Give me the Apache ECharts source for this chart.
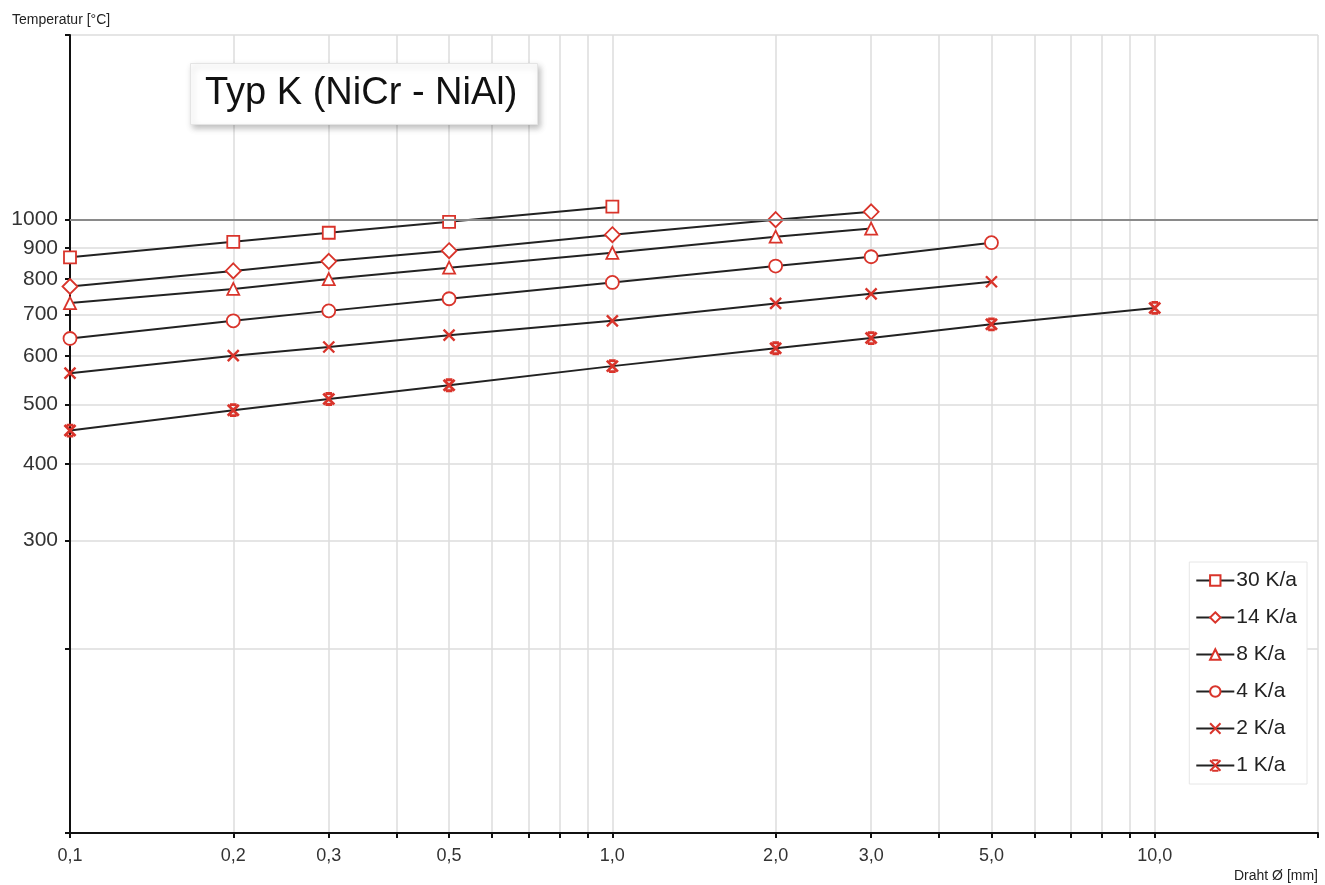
<!DOCTYPE html>
<html>
<head>
<meta charset="utf-8">
<script src="https://cdn.jsdelivr.net/npm/echarts@6/dist/echarts.min.js"></script>
<style>
  html, body { margin: 0; padding: 0; background: #fff; }
  #chart { width: 1325px; height: 885px; }
</style>
</head>
<body>
<div id="chart"></div>
<script>
// Drahtdurchmesser [mm]
const diameters = [0.1, 0.2, 0.3, 0.5, 1.0, 2.0, 3.0, 5.0, 10.0]
// Temperatur [°C] je Drift
const k30 = [868, 920, 952, 992, 1050]
const k14 = [778, 825, 855, 890, 945, 1000, 1030]
const k8 = [731, 771, 800, 835, 883, 938, 967]
const k4 = [640, 684, 710, 743, 790, 840, 870, 917]
const k2 = [562, 600, 620, 648, 684, 730, 757, 792]
const k1 = [453, 489, 510, 537, 577, 617, 641, 675, 718]

const xTickValues = [0.1, 0.2, 0.3, 0.4, 0.5, 0.6, 0.7, 0.8, 0.9, 1, 2, 3, 4, 5, 6, 7, 8, 9, 10, 20]
const xLabelValues = [0.1, 0.2, 0.3, 0.5, 1, 2, 3, 5, 10]
const yTickValues = [100, 200, 300, 400, 500, 600, 700, 800, 900, 1000, 2000]
const yLabelValues = [300, 400, 500, 600, 700, 800, 900, 1000]

const pairs = (vals) => vals.map((v, i) => [diameters[i], v])

const crossPath = 'path://M0,0L10,10M10,0L0,10'
const starPath = 'path://M0,0L10,10M10,0L0,10M2,0L8,0M2,10L8,10'

const makeSeries = (name, vals, symbol, size, bw) => ({
  name: name,
  type: 'line',
  data: pairs(vals),
  symbol: symbol,
  symbolSize: size,
  showAllSymbol: true,
  lineStyle: { color: '#222', width: 2 },
  itemStyle: { color: '#fff', borderColor: '#d9342b', borderWidth: bw },
  emphasis: { disabled: true },
  z: 3
})

const series = [
  makeSeries('30 K/a', k30, 'rect', 12, 1.8),
  makeSeries('14 K/a', k14, 'diamond', 15, 1.8),
  makeSeries('8 K/a', k8, 'triangle', 12, 1.8),
  makeSeries('4 K/a', k4, 'circle', 13, 1.8),
  makeSeries('2 K/a', k2, crossPath, 11, 2.4),
  makeSeries('1 K/a', k1, starPath, 11, 2.8)
]
// 1000 °C Linie
series[0].markLine = {
  silent: true,
  symbol: 'none',
  label: { show: false },
  lineStyle: { color: '#8a8a8a', width: 2, type: 'solid' },
  data: [{ yAxis: 1000 }]
}

var chartDom = document.getElementById('chart')
var myChart = echarts.init(chartDom)
var option

option = {
  animation: false,
  backgroundColor: '#fff',
  textStyle: { fontFamily: 'Liberation Sans, Arial, sans-serif' },
  title: {
    text: 'Typ K (NiCr - NiAl)',
    left: 190,
    top: 63,
    padding: [12, 20, 12, 15],
    backgroundColor: '#fff',
    borderColor: '#e4e4e4',
    borderWidth: 1,
    shadowBlur: 6,
    shadowOffsetX: 2,
    shadowOffsetY: 3,
    shadowColor: 'rgba(0,0,0,0.25)',
    textStyle: { fontSize: 38, fontWeight: 'normal', color: '#111', fontFamily: 'Liberation Sans, Arial' }
  },
  legend: {
    orient: 'vertical',
    right: 18,
    top: 562,
    padding: [8, 10, 8, 6],
    itemWidth: 38,
    itemHeight: 13,
    itemGap: 16,
    backgroundColor: '#fff',
    borderColor: '#e6e6e6',
    borderWidth: 1,
    textStyle: { fontSize: 21, color: '#222', padding: [0, 0, 0, -3] },
    data: series.map((s) => s.name)
  },
  grid: { left: 70, right: 7, top: 35, bottom: 52 },
  xAxis: {
    type: 'log',
    logBase: 10,
    min: 0.1,
    max: 20,
    name: 'Draht Ø [mm]',
    nameLocation: 'end',
    nameGap: 0,
    nameTextStyle: { fontSize: 14, color: '#222', align: 'right', verticalAlign: 'top', padding: [36, 0, 0, 0] },
    axisLine: { onZero: false, lineStyle: { color: '#111', width: 2 } },
    axisTick: { customValues: xTickValues, length: 5, lineStyle: { color: '#111', width: 2 } },
    axisLabel: {
      customValues: xLabelValues,
      fontSize: 18,
      color: '#333',
      margin: 14,
      formatter: (v) => v.toFixed(1).replace('.', ',')
    },
    splitLine: { show: true, lineStyle: { color: '#dcdcdc', width: 1.5 } }
  },
  yAxis: {
    type: 'log',
    logBase: 10,
    min: 100,
    max: 2000,
    name: 'Temperatur [°C]',
    nameLocation: 'end',
    nameGap: 8,
    nameTextStyle: { fontSize: 14, color: '#222', align: 'left', padding: [0, 0, 0, -58] },
    axisLine: { onZero: false, lineStyle: { color: '#111', width: 2 } },
    axisTick: { customValues: yTickValues, length: 5, lineStyle: { color: '#111', width: 2 } },
    axisLabel: { customValues: yLabelValues, fontSize: 21, color: '#333', margin: 12, formatter: (v) => String(Math.round(v)) },
    splitLine: { show: true, lineStyle: { color: '#dcdcdc', width: 1.5 } }
  },
  series: series
}

option && myChart.setOption(option)
</script>
</body>
</html>
